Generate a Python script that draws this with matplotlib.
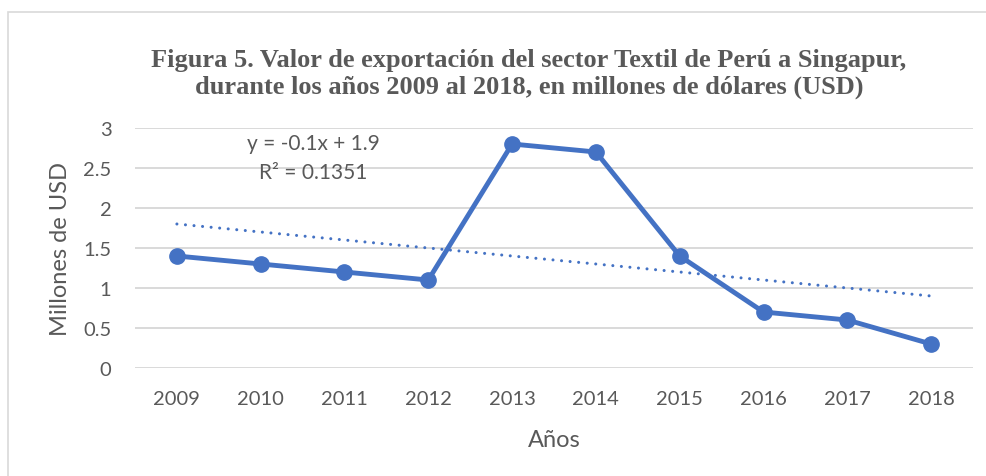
import matplotlib.pyplot as plt
import matplotlib.patches as patches
import numpy as np

anios = ["2009", "2010", "2011", "2012", "2013", "2014", "2015", "2016", "2017", "2018"]
valores = [1.4, 1.3, 1.2, 1.1, 2.8, 2.7, 1.4, 0.7, 0.6, 0.3]

azul = "#4472C4"
gris = "#595959"

W, H = 987, 477
fig = plt.figure(figsize=(W / 100, H / 100), dpi=100)
ax = fig.add_axes([135 / W, 1 - 369 / H, (973 - 135) / W, (369 - 129) / H])

# marco del grafico (recortado por la derecha y abajo)
marco = patches.Rectangle((8 / W, -0.1), 1.2, 1 - 13 / H + 0.1, transform=fig.transFigure,
                          fill=False, edgecolor="#d9d9d9", linewidth=1.2, clip_on=False)
fig.patches.append(marco)

x = np.arange(1, len(valores) + 1)
ax.plot(x, valores, color=azul, linewidth=3.5, marker="o", markersize=11, zorder=3)

# linea de tendencia lineal
m, b = np.polyfit(x, valores, 1)
ax.plot(x, m * x + b, color=azul, linewidth=2.2, linestyle=(0, (0.01, 2.8)),
        dash_capstyle="round", zorder=2)

ax.set_xlim(0.5, len(valores) + 0.5)
ax.set_ylim(0, 3)
ax.set_yticks([0, 0.5, 1, 1.5, 2, 2.5, 3])
ax.set_yticklabels(["0", "0.5", "1", "1.5", "2", "2.5", "3"])
ax.set_xticks(x)
ax.set_xticklabels(anios)
ax.grid(axis="y", color="#d9d9d9", linewidth=1.4)
ax.set_axisbelow(True)
for s in ax.spines.values():
    s.set_visible(False)
ax.tick_params(axis="x", length=0, labelsize=14.5, labelcolor=gris, pad=16)
ax.tick_params(axis="y", length=0, labelsize=14.5, labelcolor=gris, pad=17)
for lab in ax.get_xticklabels() + ax.get_yticklabels():
    lab.set_fontfamily("Lato")

ax.set_xlabel("Años", fontsize=17, color=gris, family="Lato", labelpad=16)
ax.set_ylabel("Millones de USD", fontsize=17, color=gris, family="Lato", labelpad=9)

ax.text(313 / W, 1 - 144 / H, "y = -0.1x + 1.9", transform=fig.transFigure,
        ha="center", va="center", fontsize=15, color=gris, family="Lato")
ax.text(313 / W, 1 - 173 / H, "R² = 0.1351", transform=fig.transFigure,
        ha="center", va="center", fontsize=15, color=gris, family="Lato")

fig.text(529 / W, 1 - 74 / H,
         "Figura 5. Valor de exportación del sector Textil de Perú a Singapur,\n"
         "durante los años 2009 al 2018, en millones de dólares (USD)",
         ha="center", va="center", fontsize=19, fontweight="bold", color=gris,
         family="Liberation Serif", linespacing=1.22)

fig.savefig("out.png", dpi=100, facecolor="white")
